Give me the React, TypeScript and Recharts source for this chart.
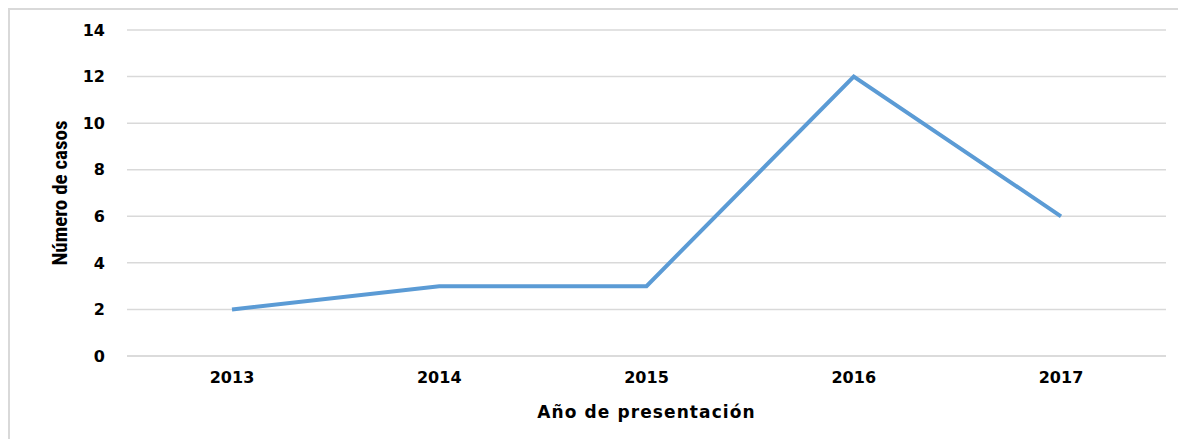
import { LineChart, Line, XAxis, YAxis, CartesianGrid } from "recharts";

const years = ["2013", "2014", "2015", "2016", "2017"];
const casos = [2, 3, 3, 12, 6];
const yTicks = [0, 2, 4, 6, 8, 10, 12, 14];

const data = years.map((year, i) => ({ year, casos: casos[i] }));

const tickStyle = {
  fontFamily: "'DejaVu Sans', Verdana, sans-serif",
  fontWeight: 700,
  fontSize: 16,
  fill: "#000",
};

export default function App() {
  return (
    <div
      style={{
        position: "relative",
        width: 1178,
        height: 431,
        overflow: "hidden",
        borderLeft: "2px solid #d9d9d9",
        borderTop: "2px solid #d9d9d9",
        boxSizing: "border-box",
      }}
    >
      <LineChart
        width={1176}
        height={429}
        data={data}
        margin={{ top: 20, right: 20, bottom: 53, left: 0 }}
      >
        <CartesianGrid horizontal vertical={false} stroke="#d9d9d9" strokeWidth={1.5} />
        <XAxis
          dataKey="year"
          padding={{ left: 105, right: 105 }}
          axisLine={{ stroke: "#d9d9d9", strokeWidth: 1.5 }}
          tickLine={false}
          tickSize={0}
          tickMargin={16}
          tick={tickStyle}
          label={{
            value: "Año de presentación",
            position: "bottom",
            offset: 20,
            style: { ...tickStyle, fontSize: 17, letterSpacing: 1.1 },
          }}
        />
        <YAxis
          width={117}
          domain={[0, 14]}
          ticks={yTicks}
          axisLine={false}
          tickLine={false}
          tickSize={0}
          tickMargin={22}
          tick={tickStyle}
          label={{
            value: "Número de casos",
            angle: -90,
            position: "insideLeft",
            offset: 50,
            style: {
              fontFamily: "'Liberation Sans Narrow', 'Roboto Condensed', sans-serif",
              fontWeight: 700,
              fontSize: 21,
              fill: "#000",
              textAnchor: "middle",
            },
          }}
        />
        <Line
          type="linear"
          dataKey="casos"
          stroke="#5b9bd5"
          strokeWidth={4}
          dot={false}
          isAnimationActive={false}
        />
      </LineChart>
    </div>
  );
}
